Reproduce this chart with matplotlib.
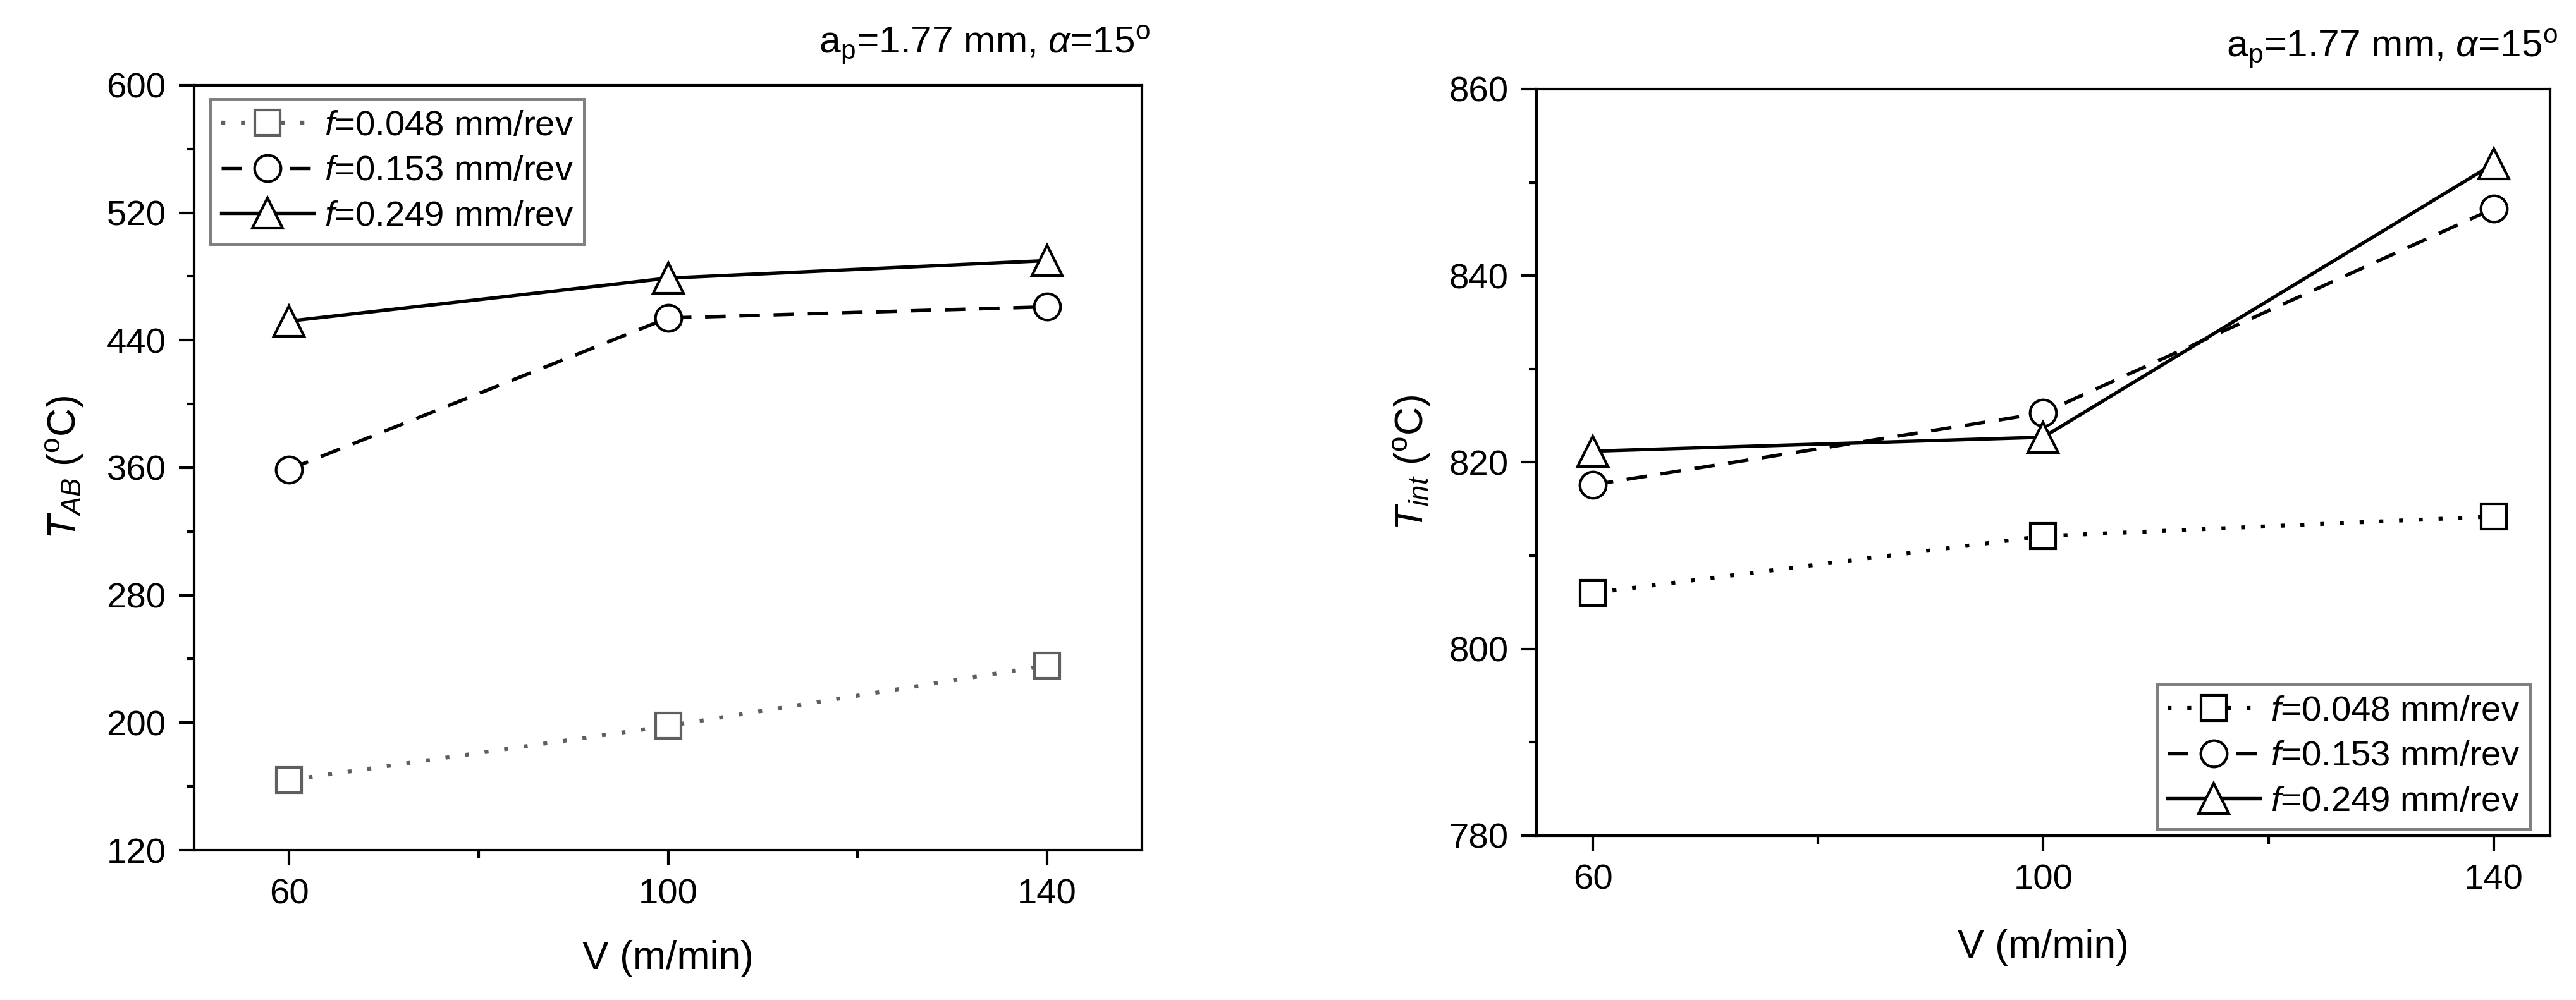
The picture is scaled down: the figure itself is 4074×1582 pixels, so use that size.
import matplotlib
matplotlib.use('Agg')
import matplotlib.pyplot as plt

plt.rcParams['font.family'] = ['Liberation Sans', 'DejaVu Sans']
plt.rcParams['mathtext.fontset'] = 'custom'
plt.rcParams['mathtext.rm'] = 'Liberation Sans'
plt.rcParams['mathtext.it'] = 'Liberation Sans:italic'
plt.rcParams['mathtext.bf'] = 'Liberation Sans:bold'

# cutting speed (m/min)
speed = [60, 100, 140]
speed_minor = [80, 120]
feeds = ['0.048', '0.153', '0.249']

# temperature at the AB zone (left panel)
t_ab_f048 = [164, 198, 236]
t_ab_f153 = [359, 454, 461]
t_ab_f249 = [452, 479, 490]
t_ab_ticks = [120, 200, 280, 360, 440, 520, 600]
t_ab_minor = [160, 240, 320, 400, 480, 560]

# interface temperature (right panel)
t_int_f048 = [806.0, 812.1, 814.2]
t_int_f153 = [817.6, 825.3, 847.2]
t_int_f249 = [821.2, 822.7, 852.0]
t_int_ticks = [780, 800, 820, 840, 860]
t_int_minor = [790, 810, 830, 850]

params_txt = r'a$_\mathregular{p}$=1.77 mm, $\alpha$=15$^\mathregular{o}$'
FS = 13.5


def styles(grey_first):
    c0 = '#5f5f5f' if grey_first else 'black'
    return [
        dict(color=c0, ls=(0, (1, 4)), lw=1.5, marker='s', ms=9.5, mec=c0),
        dict(color='black', ls=(0, (6, 4)), lw=1.3, marker='o', ms=10, mec='black'),
        dict(color='black', ls='-', lw=1.3, marker='^', ms=11.5, mec='black'),
    ]


def setup(ax, ylim, yticks, yminor, xlim):
    ax.set_xlim(*xlim)
    ax.set_ylim(*ylim)
    ax.set_xticks(speed)
    ax.set_xticks(speed_minor, minor=True)
    ax.set_yticks(yticks)
    ax.set_yticks(yminor, minor=True)
    ax.tick_params(which='both', direction='out', top=False, right=False,
                   labelsize=FS, width=1.0, pad=5)
    ax.tick_params(which='major', length=5.7)
    ax.tick_params(which='minor', length=3.0)
    for s in ax.spines.values():
        s.set_linewidth(1.0)
    ax.annotate(params_txt, xy=(1, 1), xycoords='axes fraction',
                xytext=(3, 12), textcoords='offset points',
                ha='right', va='baseline', fontsize=14.5)


def add_legend(ax, **kw):
    leg = ax.legend(borderaxespad=0, fontsize=FS, frameon=True, fancybox=False,
                    framealpha=1, edgecolor='#808080', handlelength=2.6,
                    handletextpad=0.3, labelspacing=0.35, borderpad=0.3, **kw)
    leg.get_frame().set_linewidth(1.2)


fig = plt.figure(figsize=(4074 / 300, 1582 / 300), dpi=300)

# ── left: T_AB ──
ax1 = fig.add_axes([0.0754, 0.1498, 0.3679, 0.7649])
for ys, fd, st in zip([t_ab_f048, t_ab_f153, t_ab_f249], feeds, styles(True)):
    ax1.plot(speed, ys, mfc='white', mew=1.0, label=r'$f$=' + fd + ' mm/rev', **st)
setup(ax1, (120, 600), t_ab_ticks, t_ab_minor, (50, 150))
ax1.set_xlabel('V (m/min)', fontsize=15, labelpad=11)
ax1.set_ylabel(r'$T_{AB}$ ($^\mathregular{o}$C)', fontsize=15, labelpad=8)
add_legend(ax1, loc='upper left', bbox_to_anchor=(0.017, 0.982))

# ── right: T_int ──
ax2 = fig.add_axes([0.5965, 0.1644, 0.3934, 0.7465])
for ys, fd, st in zip([t_int_f048, t_int_f153, t_int_f249], feeds, styles(False)):
    ax2.plot(speed, ys, mfc='white', mew=1.0, label=r'$f$=' + fd + ' mm/rev', **st)
setup(ax2, (780, 860), t_int_ticks, t_int_minor, (55, 145))
ax2.set_xlabel('V (m/min)', fontsize=15, labelpad=12)
ax2.set_ylabel(r'$T_{int}$ ($^\mathregular{o}$C)', fontsize=15, labelpad=6)
add_legend(ax2, loc='lower right', bbox_to_anchor=(0.981, 0.0085))

fig.savefig('out.png', dpi=300, facecolor='white')
